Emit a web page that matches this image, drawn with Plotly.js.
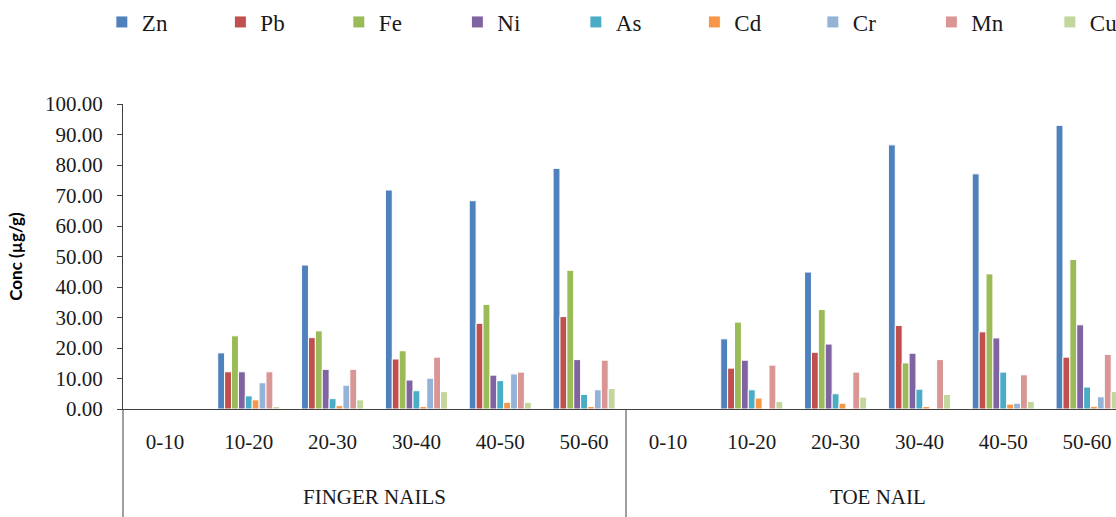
<!DOCTYPE html>
<html>
<head>
<meta charset="utf-8">
<script src="https://cdn.plot.ly/plotly-3.0.1.min.js"></script>
<style>
  html, body { margin: 0; padding: 0; background: #fff; overflow: hidden; }
  #chart { width: 1200px; height: 517px; }
</style>
</head>
<body>
<div id="chart"></div>
<script>
// Sample groups and depth bands along the x axis
const groups = ['FINGER NAILS', 'FINGER NAILS', 'FINGER NAILS', 'FINGER NAILS', 'FINGER NAILS', 'FINGER NAILS',
                'TOE NAIL', 'TOE NAIL', 'TOE NAIL', 'TOE NAIL', 'TOE NAIL', 'TOE NAIL'];
const depths = ['0-10', '10-20', '20-30', '30-40', '40-50', '50-60',
                '0-10', '10-20', '20-30', '30-40', '40-50', '50-60'];
const groupNames = ['FINGER NAILS', 'TOE NAIL'];

// Metal concentrations (µg/g)
const Zn = [0, 18.4, 47.2, 71.8, 68.3, 78.9, 0, 23.0, 44.9, 86.6, 77.1, 93.0];
const Pb = [0, 12.2, 23.4, 16.4, 28.1, 30.3, 0, 13.4, 18.6, 27.4, 25.3, 17.0];
const Fe = [0, 24.0, 25.6, 19.1, 34.3, 45.5, 0, 28.5, 32.6, 15.1, 44.3, 49.0];
const Ni = [0, 12.2, 13.0, 9.5, 11.1, 16.2, 0, 16.0, 21.3, 18.3, 23.3, 27.6];
const As = [0, 4.3, 3.4, 6.0, 9.3, 4.8, 0, 6.3, 5.0, 6.5, 12.1, 7.2];
const Cd = [0, 3.0, 1.1, 0.8, 2.2, 0.8, 0, 3.6, 1.9, 0.8, 1.6, 0.9];
const Cr = [0, 8.6, 7.8, 10.1, 11.5, 6.3, 0, 0, 0, 0, 1.9, 4.0];
const Mn = [0, 12.2, 13.0, 17.0, 12.1, 16.0, 0, 14.4, 12.1, 16.2, 11.2, 17.9];
const Cu = [0, 0.8, 3.0, 5.7, 2.2, 6.7, 0, 2.5, 3.9, 4.8, 2.5, 5.7];

const seriesNames = ['Zn', 'Pb', 'Fe', 'Ni', 'As', 'Cd', 'Cr', 'Mn', 'Cu'];
const seriesValues = [Zn, Pb, Fe, Ni, As, Cd, Cr, Mn, Cu];
const seriesColors = ['#4F81BD', '#C0504D', '#9BBB59', '#8064A2', '#4BACC6',
                      '#F79646', '#95B3D7', '#D99694', '#C3D69B'];

const serif = 'Liberation Serif, Times New Roman, serif';
const axisColor = '#404040';

// One category per (group, depth) pair; the tick shows the depth only
const categories = groups.map((g, i) => g + ' ' + depths[i]);

const traces = seriesNames.map((name, i) => ({
  type: 'bar',
  name: name,
  x: categories,
  y: seriesValues[i],
  marker: { color: seriesColors[i], line: { color: '#ffffff', width: 1 } },
  hoverinfo: 'x+y+name'
}));

// Group labels centred under each half, plus the divider lines
const perGroup = categories.length / groupNames.length;
const annotations = groupNames.map((g, k) => ({
  text: g,
  xref: 'x',
  yref: 'paper',
  x: k * perGroup + (perGroup - 1) / 2,
  y: -88 / 305,
  yanchor: 'middle',
  showarrow: false,
  font: { family: serif, size: 21, color: '#1a1a1a' }
}));
const shapes = [0, 0.5].map(px => ({
  type: 'line',
  xref: 'paper',
  yref: 'paper',
  x0: px, x1: px,
  y0: 0, y1: -108 / 305,
  line: { color: axisColor, width: 1 }
}));

const layout = {
  width: 1200,
  height: 517,
  margin: { l: 123, r: 71, t: 104, b: 108, autoexpand: false },
  paper_bgcolor: '#ffffff',
  plot_bgcolor: '#ffffff',
  barmode: 'group',
  bargap: 0.26,
  bargroupgap: 0,
  font: { family: serif, size: 21, color: '#1a1a1a' },
  showlegend: true,
  legend: {
    orientation: 'h',
    xref: 'paper',
    yref: 'paper',
    x: -0.021,
    xanchor: 'left',
    y: 1 + 82 / 305,
    yanchor: 'middle',
    entrywidth: 73.5,
    entrywidthmode: 'pixels',
    itemwidth: 30,
    font: { family: serif, size: 23, color: '#1a1a1a' },
    bgcolor: 'rgba(0,0,0,0)'
  },
  annotations: annotations,
  shapes: shapes,
  xaxis: {
    type: 'category',
    tickvals: categories,
    ticktext: depths,
    showline: true,
    linecolor: axisColor,
    linewidth: 1,
    ticks: '',
    ticklabelstandoff: 14,
    showgrid: false,
    zeroline: false,
    tickfont: { family: serif, size: 21, color: '#1a1a1a' }
  },
  yaxis: {
    range: [0, 100],
    dtick: 10,
    tickformat: '.2f',
    ticks: 'outside',
    ticklen: 5,
    tickcolor: axisColor,
    ticklabelstandoff: 10,
    showline: true,
    linecolor: axisColor,
    linewidth: 1,
    showgrid: false,
    zeroline: false,
    tickfont: { family: serif, size: 21, color: '#1a1a1a' },
    title: {
      text: 'Conc (µg/g)',
      font: { family: 'Lato, Carlito, Calibri, sans-serif', size: 17, color: '#000000', weight: 'bold' },
      standoff: 18
    }
  }
};

Plotly.newPlot('chart', traces, layout, { displayModeBar: false, staticPlot: true });
</script>
</body>
</html>
